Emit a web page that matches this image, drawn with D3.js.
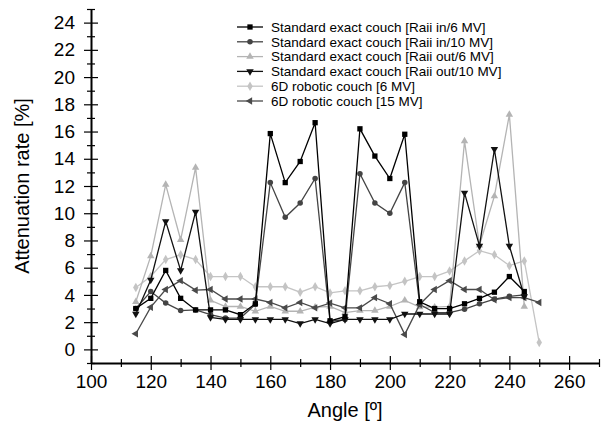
<!DOCTYPE html>
<html>
<head>
<meta charset="utf-8">
<script src="https://cdn.jsdelivr.net/npm/d3@7/dist/d3.min.js"></script>
<style>
  body { margin: 0; background: #fff; }
  text { font-family: Arial, 'Liberation Sans', sans-serif; fill: #000; }
</style>
</head>
<body>
<div id="chart"></div>
<script>
// angles of the measured points
var angles = [115, 120, 125, 130, 135, 140, 145, 150, 155, 160, 165, 170, 175, 180,
  185, 190, 195, 200, 205, 210, 215, 220, 225, 230, 235, 240, 245]
var anglesRobotic = [115, 120, 125, 130, 135, 140, 145, 150, 155, 160, 165, 170, 175, 180,
  185, 190, 195, 200, 205, 210, 215, 220, 225, 230, 235, 240, 245, 250]

// attenuation rate [%]
var railInSix = [3.0, 3.75, 5.8, 3.75, 2.9, 2.9, 2.9, 2.55, 3.35, 15.85, 12.25, 13.8, 16.65, 2.1,
  2.4, 16.2, 14.2, 12.55, 15.8, 3.5, 3.0, 3.0, 3.35, 3.75, 4.2, 5.35, 4.25]
var railInTen = [3.0, 4.25, 3.4, 2.85, 2.9, 2.55, 2.3, 2.3, 3.3, 12.25, 9.7, 10.75, 12.55, 2.05,
  2.2, 12.9, 10.75, 10.0, 12.25, 3.3, 2.7, 2.7, 2.95, 3.35, 3.7, 3.9, 4.0]
var railOutSix = [3.5, 6.85, 12.1, 8.05, 13.35, 3.6, 3.15, 3.15, 2.8, 3.15, 2.8, 2.8, 3.1, 3.15,
  2.7, 2.85, 2.85, 3.15, 3.6, 3.1, 3.1, 3.15, 15.3, 7.65, 11.25, 17.25, 3.15]
var railOutTen = [2.6, 5.1, 9.4, 5.8, 10.1, 2.35, 2.2, 2.2, 2.2, 2.2, 2.2, 1.9, 2.2, 1.9,
  2.2, 2.2, 2.2, 2.2, 2.6, 2.6, 2.6, 2.6, 11.5, 7.6, 14.7, 7.6, 3.9]
var roboticSix = [4.55, 5.35, 6.6, 6.95, 6.6, 5.35, 5.35, 5.35, 4.6, 4.6, 4.6, 4.2, 4.6, 4.15,
  4.3, 4.3, 4.6, 4.7, 5.0, 5.35, 5.35, 5.75, 6.5, 7.25, 6.95, 6.15, 6.5, 0.5]
var roboticFifteen = [1.15, 3.1, 4.4, 5.05, 4.35, 4.4, 3.7, 3.7, 3.7, 3.45, 3.05, 3.45, 3.05, 3.4,
  3.05, 3.05, 3.8, 3.35, 1.1, 3.3, 4.4, 5.05, 4.4, 4.4, 3.65, 3.8, 3.8, 3.45]

var xTicks = [100, 120, 140, 160, 180, 200, 220, 240, 260]
var yTicks = [0, 2, 4, 6, 8, 10, 12, 14, 16, 18, 20, 22, 24]

var series = [
  { name: 'Standard exact couch [Raii in/6 MV]', x: angles, y: railInSix, color: '#000', symbol: d3.symbolSquare, rot: 0, size: 28 },
  { name: 'Standard exact couch [Raii in/10 MV]', x: angles, y: railInTen, color: '#444', symbol: d3.symbolCircle, rot: 0, size: 24 },
  { name: 'Standard exact couch [Raii out/6 MV]', x: angles, y: railOutSix, color: '#b4b4b4', symbol: d3.symbolTriangle, rot: 0, size: 24 },
  { name: 'Standard exact couch [Raii out/10 MV]', x: angles, y: railOutTen, color: '#111', symbol: d3.symbolTriangle, rot: 180, size: 24 },
  { name: '6D robotic couch [6 MV]', x: anglesRobotic, y: roboticSix, color: '#c4c4c4', symbol: d3.symbolDiamond, rot: 0, size: 26 },
  { name: '6D robotic couch [15 MV]', x: anglesRobotic, y: roboticFifteen, color: '#4a4a4a', symbol: d3.symbolTriangle, rot: -90, size: 24 }
]

var svg = d3.select('#chart').append('svg')
  .attr('width', 601)
  .attr('height', 430)

var x = d3.scaleLinear().domain([100, 270]).range([91, 599])
var y = d3.scaleLinear().domain([-1, 25]).range([363, 9])

// minor ticks first, then labelled ones; all ticks cross the axis line
var xMinor = svg.append('g')
  .attr('transform', 'translate(0,' + y(-1) + ')')
  .call(d3.axisBottom(x).tickValues([110, 130, 150, 170, 190, 210, 230, 250, 270]).tickFormat('').tickSize(4).tickSizeOuter(0))
xMinor.selectAll('.tick line').attr('y1', -4).attr('y2', 4).attr('stroke-width', 1.2)
xMinor.select('.domain').remove()

var xAxis = svg.append('g')
  .attr('transform', 'translate(0,' + y(-1) + ')')
  .call(d3.axisBottom(x).tickValues(xTicks).tickSize(7).tickSizeOuter(0))
xAxis.selectAll('.tick line').attr('y1', -7).attr('y2', 7).attr('stroke-width', 1.2)
xAxis.select('.domain').attr('stroke-width', 2)
xAxis.selectAll('.tick text')
  .attr('y', 12)
  .style('font-size', '19px')

var yMinor = svg.append('g')
  .attr('transform', 'translate(' + x(100) + ',0)')
  .call(d3.axisLeft(y).tickValues([-1, 1, 3, 5, 7, 9, 11, 13, 15, 17, 19, 21, 23, 25]).tickFormat('').tickSize(4).tickSizeOuter(0))
yMinor.selectAll('.tick line').attr('x1', -4).attr('x2', 4).attr('stroke-width', 1.2)
yMinor.select('.domain').remove()

var yAxis = svg.append('g')
  .attr('transform', 'translate(' + x(100) + ',0)')
  .call(d3.axisLeft(y).tickValues(yTicks).tickSize(7).tickSizeOuter(0))
yAxis.selectAll('.tick line').attr('x1', -7).attr('x2', 7).attr('stroke-width', 1.2)
yAxis.select('.domain').attr('stroke-width', 2)
yAxis.selectAll('.tick text')
  .attr('x', -16)
  .style('font-size', '19px')

svg.selectAll('.tick text').attr('fill', '#000')

// axis titles
svg.append('text')
  .attr('x', 345)
  .attr('y', 417)
  .attr('text-anchor', 'middle')
  .style('font-size', '20px')
  .text('Angle [º]')

svg.append('text')
  .attr('transform', 'translate(29,186) rotate(-90)')
  .attr('text-anchor', 'middle')
  .style('font-size', '20px')
  .text('Attenuation rate [%]')

var line = d3.line()
  .x(function (d) { return x(d[0]) })
  .y(function (d) { return y(d[1]) })

// light series go underneath the dark ones
var drawOrder = [4, 2, 5, 1, 3, 0]
drawOrder.forEach(function (k) {
  var s = series[k]
  var pts = s.x.map(function (a, i) { return [a, s.y[i]] })
  var g = svg.append('g')
  g.append('path')
    .attr('d', line(pts))
    .attr('fill', 'none')
    .attr('stroke', s.color)
    .attr('stroke-width', 1.3)
  g.selectAll('path.mark')
    .data(pts)
    .enter()
    .append('path')
    .attr('class', 'mark')
    .attr('d', d3.symbol().type(s.symbol).size(s.size))
    .attr('transform', function (d) {
      return 'translate(' + x(d[0]) + ',' + y(d[1]) + ') rotate(' + s.rot + ')'
    })
    .attr('fill', s.color)
})

// legend
var legend = svg.selectAll('g.legend')
  .data(series)
  .enter()
  .append('g')
  .attr('class', 'legend')
  .attr('transform', function (d, i) {
    return 'translate(0,' + (27 + i * 14.8) + ')'
  })

legend.append('line')
  .attr('x1', 237)
  .attr('x2', 263)
  .attr('stroke', function (d) { return d.color })
  .attr('stroke-width', 1.3)

legend.append('path')
  .attr('d', function (d) { return d3.symbol().type(d.symbol).size(d.size)() })
  .attr('transform', function (d) { return 'translate(250,0) rotate(' + d.rot + ')' })
  .attr('fill', function (d) { return d.color })

legend.append('text')
  .attr('x', 271)
  .attr('dy', '0.36em')
  .style('font-size', '13.5px')
  .text(function (d) { return d.name })
</script>
</body>
</html>
